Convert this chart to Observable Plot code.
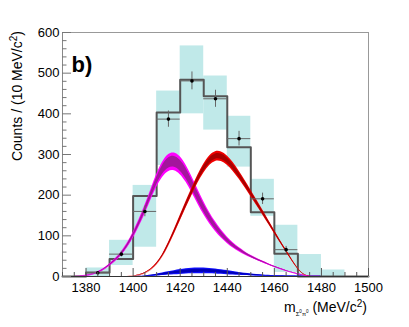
<!DOCTYPE html>
<html>
<head>
<meta charset="utf-8">
<script src="https://cdn.jsdelivr.net/npm/d3@7"></script>
<script src="https://cdn.jsdelivr.net/npm/@observablehq/plot@0.6"></script>
<style>
  html, body { margin: 0; padding: 0; background: white; }
  svg { display: block; }
</style>
</head>
<body>
<div id="chart"></div>
<script>
// ---------- data ----------
// histogram (fit total), bins of 10 MeV starting at left edge
const binEdges = [1370, 1380, 1390, 1400, 1410, 1420, 1430, 1440, 1450, 1460, 1470, 1480, 1490];
const histVals = [0, 10, 43, 198, 403, 484, 443, 318, 158, 56, 0, 0, 0];

// systematic boxes (cyan)
const boxLeft = [1380, 1390, 1400, 1410, 1420, 1430, 1440, 1450, 1460, 1470, 1480];
const boxLo   = [0, 27, 72, 273, 400, 360, 269, 148, 10, 0, 0];
const boxHi   = [21, 89, 224, 456, 567, 493, 394, 239, 126, 54, 16];

// data points
const ptX   = [1385, 1395, 1405, 1415, 1425, 1435, 1445, 1455, 1465];
const ptY   = [9, 55, 160, 387, 481, 437, 339, 191, 66];
const ptErr = [3, 7, 13, 20, 22, 21, 18, 14, 8];

// curve sample positions (MeV/c^2)
const curveX = [1375,1377.5,1380,1382.5,1385,1387.5,1390,1392.5,1395,1397.5,
                1400,1402.5,1405,1407.5,1410,1412.5,1415,1417.5,1420,1422.5,
                1425,1427.5,1430,1432.5,1435,1437.5,1440,1442.5,1445,1447.5,
                1450,1452.5,1455,1457.5,1460,1462.5,1465,1467.5,1470,1472.5,
                1475,1477.5,1480];
// magenta component: centre, outer and inner band half-widths
const mag    = [0,1,2,5,10,17,28,40,55,75, 100,130,163,200,236,264,281,284,274,254,
                226,196,168,143,122,104,89,76,66,57, 49,42,36,30,24,19,14,10,6,3, 1,0,0];
const magOut = [0.3,0.5,0.6,0.8,1.2,1.8,2.5,3.5,4.5,6, 7.5,9,11,13,16,19,21,22,22,21,
                20,18,16,14,12,10,8,6.5,5,4, 3,2.5,2,1.6,1.3,1,0.8,0.6,0.5,0.4, 0.3,0.2,0];
const magIn  = [0.1,0.2,0.3,0.4,0.6,0.9,1.3,1.8,2.3,3, 4,5,6,7.5,9,11,13,13.5,13.5,13,
                12,11,10,8.5,7,6,5,4,3,2.5, 2,1.5,1.2,1,0.8,0.6,0.5,0.4,0.3,0.2, 0.1,0.1,0];
// red component
const red    = [0,0,0,0,0,0,0,0,0,0, 1,3,8,16,30,50,78,110,143,177,
                208,240,266,286,297,296,286,270,250,228, 205,182,158,134,110,86,63,40,18,4, 0,0,0];
const redOut = [0,0,0,0,0,0,0,0,0,0, 0.3,0.5,0.8,1.2,2,3,4,5.5,7,8,
                9,10,11,12,12,12,11.5,11,10,9, 8,7,6,5,4,3.2,2.5,1.8,1,0.5, 0.2,0,0];
const redIn  = [0,0,0,0,0,0,0,0,0,0, 0.2,0.3,0.4,0.6,1,1.6,2.2,3,4,4.5,
                5,5.5,6,6.5,6.5,6.5,6.5,6,5.5,5, 4.5,4,3.5,3,2.2,1.8,1.4,1,0.6,0.3, 0.1,0,0];
// blue component
const blue    = [0,0,0,0,0,0,0,0,0,0, 0,0.3,1,2,3.5,5.5,7.5,9.5,11,12.5,
                 13.5,14,14,13.5,12.5,11,9.5,8,6.5,5.2, 4,3.2,2.5,2,1.6,1.3,1,0.8,0.6,0.5, 0.4,0.3,0.2];
const blueOut = [0,0,0,0,0,0,0,0,0,0, 0,0.3,0.7,1.2,2,3,4,5,6,6.5,
                 7,7,7,6.5,6,5.5,5,4.2,3.5,2.8, 2.2,1.8,1.4,1.1,0.9,0.7,0.6,0.5,0.4,0.3, 0.2,0.2,0.1];
const blueIn  = [0,0,0,0,0,0,0,0,0,0, 0,0.2,0.4,0.7,1.1,1.7,2.3,2.8,3.3,3.6,
                 3.8,3.8,3.8,3.6,3.3,3,2.7,2.3,1.9,1.5, 1.2,1,0.8,0.6,0.5,0.4,0.3,0.3,0.2,0.2, 0.1,0.1,0.1];

const xTickLabels = [1380, 1400, 1420, 1440, 1460, 1480, 1500];
const yTickLabels = [0, 100, 200, 300, 400, 500, 600];
const binHalf = 5;

// ---------- tables ----------
const histPts = binEdges.map((e, i) => ({x: e, y: histVals[i]})).concat([{x: 1500, y: 0}]);
const boxes = boxLeft.map((l, i) => ({x1: l, x2: l + 10, y1: boxLo[i], y2: boxHi[i]}));
const pts = ptX.map((x, i) => ({x, y: ptY[i], e: ptErr[i]}));
const rows = curveX.map((x, i) => ({
  x, m: mag[i], mo: magOut[i], mi: magIn[i],
  r: red[i], ro: redOut[i], ri: redIn[i],
  b: blue[i], bo: blueOut[i], bi: blueIn[i]
}));
const lo = (v, w) => Math.max(0, v - w);

// ---------- layout ----------
const W = 409, H = 327, mL = 62, mR = 41, mT = 32, mB = 51;
const pw = W - mL - mR, ph = H - mT - mB;
const yMinor = d3.range(0, 601, 20).filter(v => v % 100 !== 0);
const xMinor = d3.range(1370, 1501, 5).filter(v => v % 20 !== 0);
const xMajor = d3.range(1380, 1501, 20);

const band = (key, wkey, fill) => Plot.areaY(rows, {
  x: "x", y1: d => lo(d[key], d[wkey]), y2: d => d[key] + d[wkey], fill, curve: "basis"
});
const thin = (key, stroke, w) => Plot.line(rows.filter(d => d[key] > 0.3), {
  x: "x", y: key, stroke, strokeWidth: w, curve: "basis"
});

const plot = Plot.plot({
  width: W, height: H,
  marginLeft: mL, marginRight: mR, marginTop: mT, marginBottom: mB,
  x: {domain: [1370, 1500]},
  y: {domain: [0, 600]},
  style: {fontFamily: "'Liberation Sans', Arial, Helvetica, sans-serif", background: "white", color: "#000"},
  marks: [
    Plot.rect(boxes, {x1: "x1", x2: "x2", y1: "y1", y2: "y2", fill: "#c0e9e9"}),
    Plot.line(histPts, {x: "x", y: "y", curve: "step-after", stroke: "#555", strokeWidth: 2}),
    thin("b", "#0000ff", 0.8),
    band("b", "bo", "#1010ff"),
    band("b", "bi", "#0000b8"),
    thin("m", "#e000e0", 0.9),
    band("m", "mo", "#ff00ff"),
    band("m", "mi", "#a3169c"),
    thin("r", "#e85050", 0.7),
    band("r", "ro", "#f00000"),
    band("r", "ri", "#a80000"),
    Plot.ruleX(pts, {x: "x", y1: d => d.y - d.e, y2: d => d.y + d.e, stroke: "#666", strokeWidth: 1}),
    Plot.ruleY(pts, {y: "y", x1: d => d.x - binHalf, x2: d => d.x + binHalf, stroke: "#666", strokeWidth: 1}),
    Plot.dot(pts, {x: "x", y: "y", r: 1.8, fill: "black"}),
    Plot.frame({stroke: "#999"}),
    Plot.ruleX([1370], {stroke: "#888"}),
    Plot.ruleY([0], {stroke: "#333", strokeWidth: 1.2}),
    Plot.tickY(yTickLabels, {y: d => d, insetRight: pw - 9, stroke: "#777"}),
    Plot.tickY(yMinor, {y: d => d, insetRight: pw - 4.5, stroke: "#777"}),
    Plot.tickX(xMajor, {x: d => d, insetTop: ph - 8, stroke: "#555"}),
    Plot.tickX(xMinor, {x: d => d, insetTop: ph - 4, stroke: "#555"}),
    Plot.axisY({ticks: yTickLabels, tickSize: 0, tickPadding: 3, fontSize: 13, label: null}),
    Plot.axisX({ticks: xTickLabels, tickSize: 0, tickPadding: 6, fontSize: 13, label: null, tickFormat: d => String(d)})
  ]
});

// ---------- text labels ----------
const svg = d3.select(plot);
const fam = "'Liberation Sans', Arial, Helvetica, sans-serif";

// panel tag
svg.append("text")
  .attr("x", 82).attr("y", 72)
  .attr("font-family", fam).attr("font-size", 22).attr("font-weight", "bold")
  .attr("fill", "#000")
  .text("b)");

// y title
const yt = svg.append("text")
  .attr("transform", "translate(22,31) rotate(-90)")
  .attr("text-anchor", "end")
  .attr("font-family", fam).attr("font-size", 14).attr("fill", "#000");
yt.append("tspan").text("Counts / (10 MeV/c");
yt.append("tspan").attr("font-size", 10).attr("dy", -5).text("2");
yt.append("tspan").attr("dy", 5).text(")");

// x title
const xt = svg.append("text")
  .attr("x", 367).attr("y", 311.5)
  .attr("text-anchor", "end")
  .attr("font-family", fam).attr("font-size", 14).attr("fill", "#000");
xt.append("tspan").text("m");
xt.append("tspan").attr("font-size", 6).attr("dy", 4).text("Σ");
xt.append("tspan").attr("font-size", 4.5).attr("dy", -3).text("0");
xt.append("tspan").attr("font-size", 6).attr("dy", 3).text("π");
xt.append("tspan").attr("font-size", 4.5).attr("dy", -3).text("0");
xt.append("tspan").attr("dy", -1).text(" (MeV/c");
xt.append("tspan").attr("font-size", 10).attr("dy", -5).text("2");
xt.append("tspan").attr("dy", 5).text(")");

document.getElementById("chart").appendChild(plot);
</script>
</body>
</html>
